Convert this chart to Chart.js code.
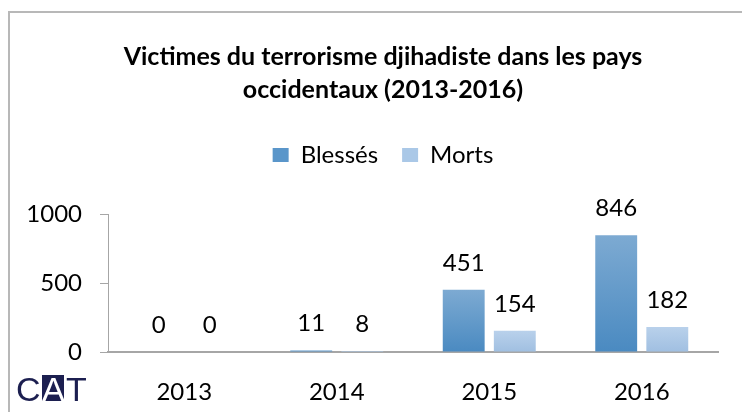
<!DOCTYPE html>
<html>
<head>
<meta charset="utf-8">
<script src="https://cdn.jsdelivr.net/npm/chart.js@4.4.1/dist/chart.umd.min.js"></script>
<style>
  html, body { margin: 0; padding: 0; background: #fff; }
  #wrap { position: relative; width: 742px; height: 412px; overflow: hidden; }
  #frame { position: absolute; left: 8px; top: 11px; width: 760px; height: 420px;
           border-top: 2px solid #b8b8b8; border-left: 2px solid #b8b8b8; }
  #myChart { position: absolute; left: 0; top: 0; }
  .logo { position: absolute; top: 372px; height: 34px; font-family: "Liberation Sans", Arial, sans-serif;
          font-size: 34px; line-height: 34px; color: #1c1f50; }
  .logo-box { position: absolute; left: 42px; top: 375px; width: 22px; height: 26px; background: #1c1f50; }
</style>
</head>
<body>
<div id="wrap">
  <div id="frame"></div>
  <canvas id="myChart" width="742" height="412"></canvas>
  <div class="logo-box"></div>
  <div class="logo" style="left:16px">C</div>
  <div class="logo" style="left:42px;color:#fff">A</div>
  <div class="logo" style="left:66px">T</div>
</div>
<script>
const titleLines = ["Victimes du terrorisme djihadiste dans les pays", "occidentaux (2013-2016)"];
const years = ["2013", "2014", "2015", "2016"];
const blesses = [0, 11, 451, 846];
const morts = [0, 8, 154, 182];
const yTicks = [0, 500, 1000];

const fontName = "Lato";

function barFill(top, bottom, flat) {
    return function (ctx) {
        const chart = ctx.chart;
        if (ctx.type !== 'data' || !chart.chartArea) return flat;
        const y = chart.scales.y;
        const yTop = y.getPixelForValue(ctx.raw);
        const yBase = y.getPixelForValue(0);
        if (!isFinite(yTop) || yBase - yTop < 2) return flat;
        const g = chart.ctx.createLinearGradient(0, yTop, 0, yBase);
        g.addColorStop(0, top);
        g.addColorStop(1, bottom);
        return g;
    };
}

// values written above each bar
const valueLabels = {
    id: 'valueLabels',
    afterDatasetsDraw(chart) {
        const c = chart.ctx;
        c.save();
        c.font = "24px " + fontName;
        c.fillStyle = "#000";
        c.textAlign = "center";
        c.textBaseline = "alphabetic";
        chart.data.datasets.forEach((ds, i) => {
            chart.getDatasetMeta(i).data.forEach((bar, j) => {
                c.fillText(String(ds.data[j]), bar.x, bar.y - 19);
            });
        });
        c.restore();
    }
};

new Chart("myChart", {
    type: "bar",
    data: {
        labels: years,
        datasets: [{
            label: "Blessés",
            data: blesses,
            backgroundColor: barFill("#7daad2", "#4a8ac1", "#5a96ca"),
            borderWidth: 0,
            categoryPercentage: 0.67,
            barPercentage: 0.82
        }, {
            label: "Morts",
            data: morts,
            backgroundColor: barFill("#b9d1eb", "#a0bfe1", "#aac8e7"),
            borderWidth: 0,
            categoryPercentage: 0.67,
            barPercentage: 0.82
        }]
    },
    plugins: [valueLabels],
    options: {
        responsive: false,
        animation: false,
        layout: { padding: { left: 24, right: 0, top: 0, bottom: 0 } },
        plugins: {
            title: {
                display: true,
                text: titleLines,
                color: "#000",
                font: { family: fontName, size: 25, weight: "bold", lineHeight: 1.32 },
                padding: { top: 40, bottom: 13 }
            },
            legend: {
                display: true,
                labels: {
                    color: "#000",
                    font: { family: fontName, size: 24 },
                    boxWidth: 16,
                    boxHeight: 14,
                    padding: 24
                }
            },
            // empty spacer between the legend and the plot
            subtitle: {
                display: true,
                text: "",
                weight: 500,
                font: { size: 10, lineHeight: 1 },
                padding: { top: 0, bottom: 27 }
            },
            tooltip: { enabled: false }
        },
        scales: {
            x: {
                grid: { display: false },
                border: { display: true, color: "#a6a6a6", width: 2, z: -1 },
                ticks: { color: "#000", font: { family: fontName, size: 24 }, padding: 18 },
                afterFit(scale) { scale.height = 60; }
            },
            y: {
                min: 0,
                max: 1000,
                afterBuildTicks(scale) { scale.ticks = yTicks.map(v => ({ value: v })); },
                grid: { drawOnChartArea: false, drawTicks: true, tickLength: 8, color: "#a6a6a6" },
                border: { display: true, color: "#a6a6a6", width: 1 },
                ticks: {
                    color: "#000",
                    font: { family: fontName, size: 24 },
                    padding: 18,
                    callback: v => String(v)
                },
                afterFit(scale) { scale.width = 84; }
            },
            // blank right margin so the title stays centred on the frame
            pad: {
                type: "linear",
                position: "right",
                grid: { display: false },
                border: { display: false },
                ticks: { display: false },
                afterFit(scale) { scale.width = 24; }
            }
        }
    }
});
</script>
</body>
</html>
